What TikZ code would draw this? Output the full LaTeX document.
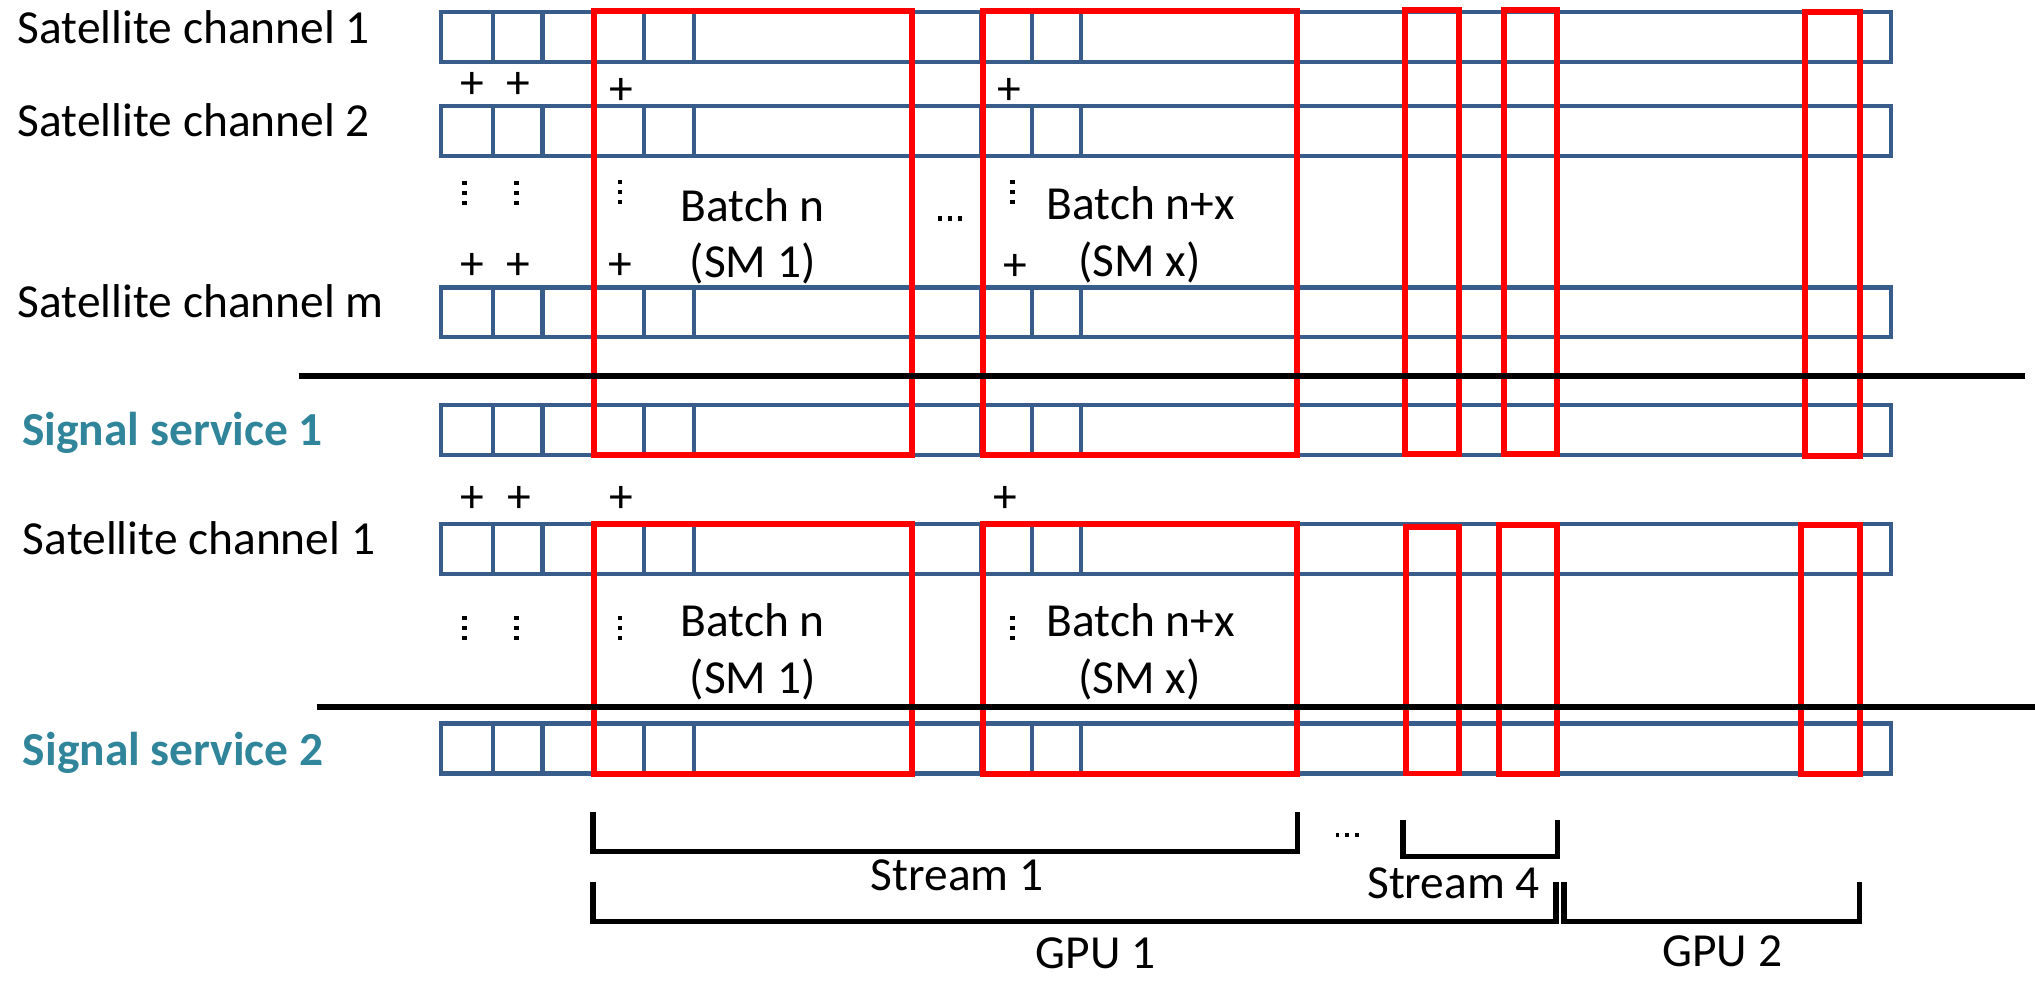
\documentclass[tikz,border=0pt]{standalone}
\usepackage{fontspec}
\setmainfont{Carlito}
\definecolor{barblue}{HTML}{385D8A}
\definecolor{sigteal}{HTML}{31859B}
\newcommand\rowbar[1]{%
  \draw[bar] (340,#1) rectangle (1457,#1+38.5);
  \foreach \xx in {380,418,457,496,535,756,795,833}
    \draw[bar] (\xx,#1) -- (\xx,#1+38.5);}
\newcommand\vdotsmark[2]{%
  \foreach \dd in {-7.7,0,7.7}
    \fill[black] (#1-1.9,#2+\dd-1.6) rectangle (#1+1.9,#2+\dd+1.6);}
\newcommand\hdotsmark[2]{%
  \foreach \dd in {-7.5,0,7.5}
    \fill[black] (#1+\dd-1.4,#2-1.8) rectangle (#1+\dd+1.4,#2+1.8);}
\begin{document}
\begin{tikzpicture}[x=0.1mm,y=-0.1mm,
  font=\fontsize{10.4pt}{12.5pt}\selectfont,
  bar/.style={draw=barblue, line width=0.9pt},
  redbox/.style={draw=red, line width=1.3pt},
  sepline/.style={draw=black, line width=1.3pt},
  bracket/.style={draw=black, line width=1.15pt},
  lbl/.style={anchor=base west, inner sep=0pt},
  ctr/.style={anchor=base, inner sep=0pt},
  svc/.style={anchor=base west, inner sep=0pt, text=sigteal, font=\fontsize{10.4pt}{12.5pt}\selectfont\bfseries},
  pl/.style={inner sep=0pt, anchor=center}]
\useasboundingbox (0,0) rectangle (1568,756);

% rows
\rowbar{9}
\rowbar{81.5}
\rowbar{221.5}
\rowbar{312}
\rowbar{404}
\rowbar{557.5}

% red boxes, upper
\draw[redbox] (457.5,8.5) rectangle (703,350.5);
\draw[redbox] (757.5,8.5) rectangle (999,350.5);
\draw[redbox] (1082.5,8) rectangle (1124,350);
\draw[redbox] (1158.5,8) rectangle (1200,350);
\draw[redbox] (1391,9) rectangle (1433,351.5);
% red boxes, lower
\draw[redbox] (457.5,404) rectangle (703,596.5);
\draw[redbox] (757.5,404) rectangle (999,596.5);
\draw[redbox] (1083,406) rectangle (1124,596);
\draw[redbox] (1155,404.5) rectangle (1199.5,596.5);
\draw[redbox] (1387.5,404.5) rectangle (1433,596.5);

% separators
\draw[sepline] (230,290) -- (1560,290);
\draw[sepline] (244,545) -- (1568,545);

% row labels
\node[lbl] (sc1) at (13,33.4) {Satellite channel 1};
\node[lbl] (sc2) at (13,105.3) {Satellite channel 2};
\node[lbl] (scm) at (13,245) {Satellite channel m};
\node[svc] (ss1) at (16.5,343) {Signal service 1};
\node[lbl] (sc1b) at (17,427.6) {Satellite channel 1};
\node[svc] (ss2) at (17,589.5) {Signal service 2};

% batch labels
\node[ctr] (bn) at (580,170.8) {Batch n};
\node[ctr] (sm1) at (580,214) {(SM 1)};
\node[ctr] (bnx) at (879,169.5) {Batch n+x};
\node[ctr] (smx) at (878,213) {(SM x)};
\node[ctr] (bnb) at (580,490.6) {Batch n};
\node[ctr] (sm1b) at (580,534.3) {(SM 1)};
\node[ctr] (bnxb) at (879,490.6) {Batch n+x};
\node[ctr] (smxb) at (878,534.3) {(SM x)};

% plus signs
\node[pl] (p1) at (363.6,65.5) {+};
\node[pl] (p2) at (399.6,65.5) {+};
\node[pl] (p3) at (478.7,70.6) {+};
\node[pl] (p4) at (777.5,70.6) {+};
\node[pl] (p5) at (363.6,205.5) {+};
\node[pl] (p6) at (399.6,205.5) {+};
\node[pl] (p7) at (478,205.5) {+};
\node[pl] (p8) at (782,206) {+};
\node[pl] (p9) at (363.6,385) {+};
\node[pl] (p10) at (400,385) {+};
\node[pl] (p11) at (479,385) {+};
\node[pl] (p12) at (774.6,385) {+};

% vertical dots
\vdotsmark{358}{148.5}
\vdotsmark{398}{148.5}
\vdotsmark{477.7}{148}
\vdotsmark{780.3}{147.7}
\vdotsmark{358}{484}
\vdotsmark{398}{484}
\vdotsmark{477.7}{484}
\vdotsmark{780.3}{484}
% horizontal dots
\hdotsmark{732}{168.2}
\hdotsmark{1038}{643.4}

% brackets
\coordinate (s1a) at (457,625.4);
\coordinate (s1b) at (1000,625.4);
\draw[bracket] (s1a) -- (457,656) -- (1000,656) -- (s1b);
\coordinate (s4a) at (1081,632);
\coordinate (s4b) at (1200,632);
\draw[bracket] (s4a) -- (1081,660) -- (1200,660) -- (s4b);
\coordinate (g1a) at (457,679.4);
\coordinate (g1b) at (1199,679.4);
\draw[bracket] (g1a) -- (457,710) -- (1199,710) -- (g1b);
\coordinate (g2a) at (1205,679.4);
\coordinate (g2b) at (1433,679.4);
\draw[bracket] (g2a) -- (1205,710) -- (1433,710) -- (g2b);

\node[ctr] (st1) at (737.5,685.8) {Stream 1};
\node[ctr] (st4) at (1120,692) {Stream 4};
\node[ctr] (gpu1) at (844,746) {GPU 1};
\node[ctr] (gpu2) at (1327,745) {GPU 2};
\end{tikzpicture}
\end{document}
